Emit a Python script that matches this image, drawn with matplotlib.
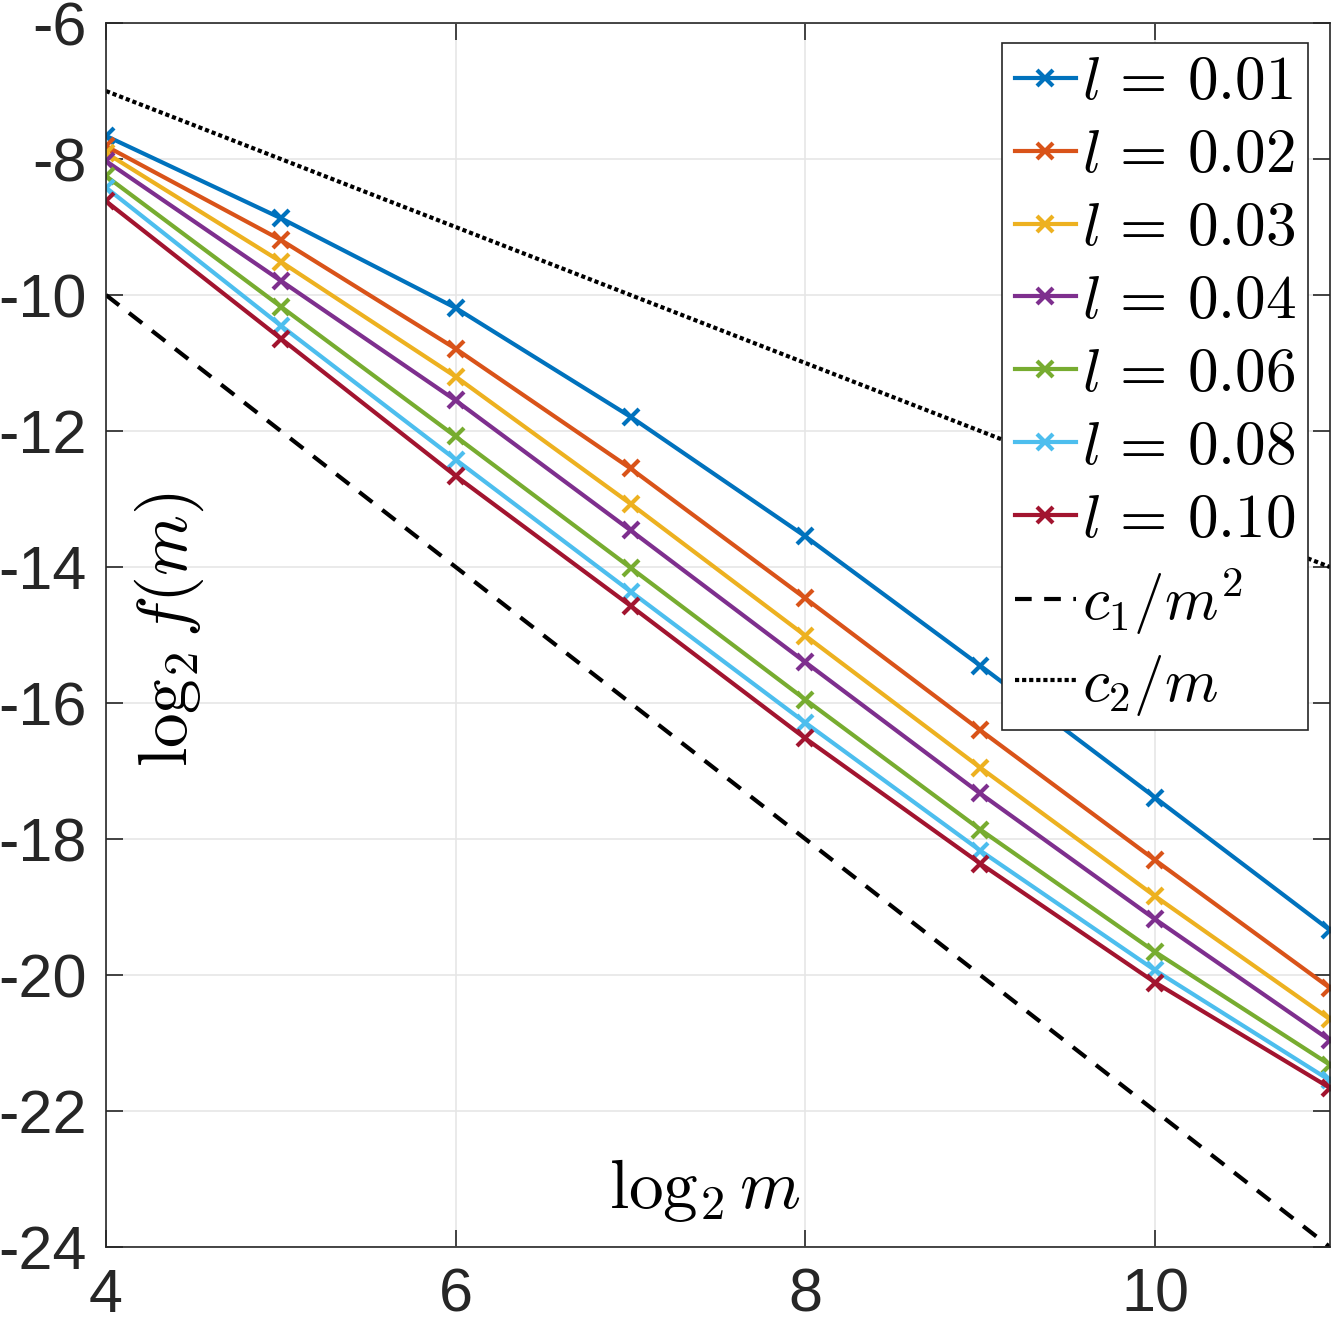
import matplotlib
matplotlib.use("Agg")
import matplotlib.pyplot as plt
import numpy as np

plt.rcParams['font.family'] = ['Liberation Sans', 'DejaVu Sans']
plt.rcParams['mathtext.fontset'] = 'cm'
plt.rcParams['axes.unicode_minus'] = False

# log2 m
log_m = np.array([4, 5, 6, 7, 8, 9, 10, 11])

# log2 f(m) per l value
l_labels = ['0.01', '0.02', '0.03', '0.04', '0.06', '0.08', '0.10']
f_001 = [-7.66, -8.87, -10.19, -11.79, -13.55, -15.45, -17.39, -19.34]
f_002 = [-7.81, -9.19, -10.79, -12.55, -14.46, -16.40, -18.31, -20.19]
f_003 = [-7.91, -9.51, -11.20, -13.07, -15.01, -16.95, -18.84, -20.65]
f_004 = [-8.03, -9.79, -11.55, -13.46, -15.40, -17.33, -19.18, -20.96]
f_006 = [-8.25, -10.17, -12.08, -14.01, -15.95, -17.86, -19.66, -21.32]
f_008 = [-8.42, -10.45, -12.42, -14.36, -16.29, -18.17, -19.93, -21.55]
f_010 = [-8.62, -10.64, -12.66, -14.57, -16.52, -18.36, -20.11, -21.66]
series = [f_001, f_002, f_003, f_004, f_006, f_008, f_010]

# reference slopes: log2(c1/m^2) and log2(c2/m)
ref_x = [4, 11]
ref_c1 = [-10, -24]
ref_c2 = [-7, -14]

colors = ['#0072BD', '#D95319', '#EDB120', '#7E2F8E', '#77AC30', '#4DBEEE', '#A2142F']

fig = plt.figure(figsize=(13.38, 13.23), dpi=100)
ax = fig.add_axes([0.0792, 0.0574, 0.9148, 0.9252])

for vals, lab, c in zip(series, l_labels, colors):
    ax.plot(log_m, vals, color=c, lw=3, marker='x', ms=11, mew=3,
            label=rf'$l\, =\, {lab}$')
ax.plot(ref_x, ref_c1, 'k--', lw=3, dashes=(4, 3), label=r'$c_1/m^2$')
ax.plot(ref_x, ref_c2, 'k:', lw=3, dashes=(1, 0.7), label=r'$c_2/m$')

ax.set_xlim(4, 11)
ax.set_ylim(-24, -6)
ax.set_xticks([4, 6, 8, 10])
ax.set_yticks(np.arange(-24, -5, 2))
ax.grid(True, color='#e6e6e6', lw=1.2)
ax.set_axisbelow(True)
ax.tick_params(direction='in', length=12, width=1.2, top=True, right=True,
               labelsize=44, colors='#262626')
ax.tick_params(axis='x', pad=15)
ax.tick_params(axis='y', pad=14)
for s in ax.spines.values():
    s.set_color('#262626')
    s.set_linewidth(1.2)

ax.set_xlabel(r'$\log_2 m$', fontsize=50, va='center')
ax.xaxis.set_label_coords(0.489, 0.0466)
ax.set_ylabel(r'$\log_2 f(m)$', fontsize=50, va='center')
ax.yaxis.set_label_coords(0.052, 0.504)

leg = ax.legend(loc='upper right', bbox_to_anchor=(0.982, 0.9837), borderaxespad=0,
                fontsize=44, handlelength=1.0, handletextpad=0.1, labelspacing=0.26,
                borderpad=0.2, fancybox=False, framealpha=1, edgecolor='#262626')
leg.get_frame().set_linewidth(1.2)

fig.savefig('out.png', dpi=100)
